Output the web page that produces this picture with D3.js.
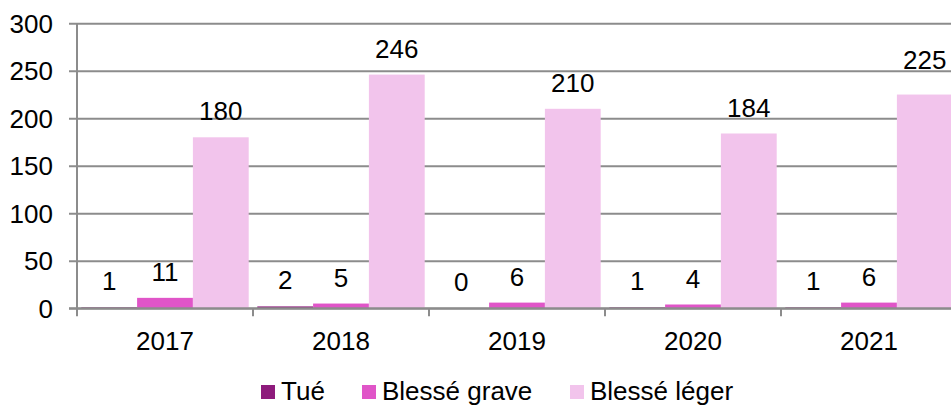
<!DOCTYPE html>
<html>
<head>
<meta charset="utf-8">
<script src="https://cdn.jsdelivr.net/npm/d3@7"></script>
<style>
  body { margin: 0; background: #fff; }
  svg text { font-family: "Liberation Sans", Arial, sans-serif; fill: #000; }
</style>
</head>
<body>
<div id="chart"></div>
<script>
var years = ["2017", "2018", "2019", "2020", "2021"];
var series = ["Tué", "Blessé grave", "Blessé léger"];
var tue = [1, 2, 0, 1, 1];
var graves = [11, 5, 6, 4, 6];
var legers = [180, 246, 210, 184, 225];
var yTicks = [0, 50, 100, 150, 200, 250, 300];
var colors = ["#8e1b7c", "#e055c8", "#f2c4ec"];

var values = [tue, graves, legers];

var width = 951, height = 406;
var plotLeft = 77, plotTop = 23.3, plotBottom = 308.3, step = 176;
var fontSize = "26px";

var svg = d3.select("#chart").append("svg")
  .attr("width", width)
  .attr("height", height);

var x0 = d3.scaleBand()
  .domain(years)
  .range([plotLeft, plotLeft + step * years.length]);

var x1 = d3.scaleBand()
  .domain(series)
  .range([4.3, step - 4.3]);

var y = d3.scaleLinear()
  .domain([0, 300])
  .range([plotBottom, plotTop]);

var color = d3.scaleOrdinal().domain(series).range(colors);

// gridlines + y labels
var yAxis = d3.axisLeft(y)
  .tickValues(yTicks)
  .tickSize(-(width - plotLeft))
  .tickPadding(16);

var gy = svg.append("g")
  .attr("transform", "translate(" + plotLeft + ",0)")
  .call(yAxis);
gy.select(".domain").remove();
gy.selectAll(".tick line")
  .attr("x1", -8)
  .attr("stroke", "#8c8c8c")
  .attr("stroke-width", 2);
gy.selectAll(".tick text")
  .style("font-size", fontSize)
  .attr("x", -24)
  .attr("dy", "0.34em");

// vertical axis line
svg.append("line")
  .attr("x1", plotLeft).attr("x2", plotLeft)
  .attr("y1", y(300)).attr("y2", plotBottom + 8)
  .attr("stroke", "#8c8c8c")
  .attr("stroke-width", 2);

// x axis
var xAxis = d3.axisBottom(x0).tickSize(0).tickPadding(23);
var gx = svg.append("g")
  .attr("transform", "translate(0," + plotBottom + ")")
  .call(xAxis);
gx.select(".domain").remove();
gx.selectAll(".tick text")
  .style("font-size", fontSize)
  .attr("dy", "0.71em");

// category separators
svg.selectAll(".sep")
  .data(years.slice(1))
  .enter().append("line")
  .attr("class", "sep")
  .attr("x1", function(d) { return x0(d); })
  .attr("x2", function(d) { return x0(d); })
  .attr("y1", plotBottom)
  .attr("y2", plotBottom + 8)
  .attr("stroke", "#8c8c8c")
  .attr("stroke-width", 2);

// bars
var groups = svg.selectAll(".year")
  .data(years)
  .enter().append("g")
  .attr("class", "year")
  .attr("transform", function(d) { return "translate(" + x0(d) + ",0)"; });

var cells = groups.selectAll(".cell")
  .data(function(d, i) {
    return series.map(function(s, j) { return { s: s, v: values[j][i], yr: d }; });
  })
  .enter().append("g")
  .attr("class", "cell");

cells.append("rect")
  .attr("x", function(d) { return x1(d.s); })
  .attr("width", x1.bandwidth())
  .attr("y", function(d) { return y(d.v); })
  .attr("height", function(d) { return plotBottom - y(d.v); })
  .attr("fill", function(d) { return color(d.s); });

cells.append("text")
  .attr("x", function(d) { return x1(d.s) + x1.bandwidth() / 2; })
  .attr("y", function(d) {
    // the 2021 label sits a little higher in the original
    var nudge = (d.yr === "2021" && d.s === "Blessé léger") ? 9 : 0;
    return y(d.v) - 17 - nudge;
  })
  .attr("text-anchor", "middle")
  .style("font-size", fontSize)
  .text(function(d) { return d.v; });

// axis baseline on top of bars
svg.append("line")
  .attr("x1", plotLeft - 8).attr("x2", width)
  .attr("y1", plotBottom).attr("y2", plotBottom)
  .attr("stroke", "#8c8c8c")
  .attr("stroke-width", 2);

// legend
var legendX = [261, 362, 570];
var legend = svg.selectAll(".legend")
  .data(series)
  .enter().append("g")
  .attr("class", "legend")
  .attr("transform", function(d, i) { return "translate(" + legendX[i] + ",385)"; });

legend.append("rect")
  .attr("width", 14)
  .attr("height", 14)
  .attr("fill", function(d) { return color(d); });

legend.append("text")
  .attr("x", 20)
  .attr("y", 15)
  .style("font-size", fontSize)
  .text(function(d) { return d; });
</script>
</body>
</html>
